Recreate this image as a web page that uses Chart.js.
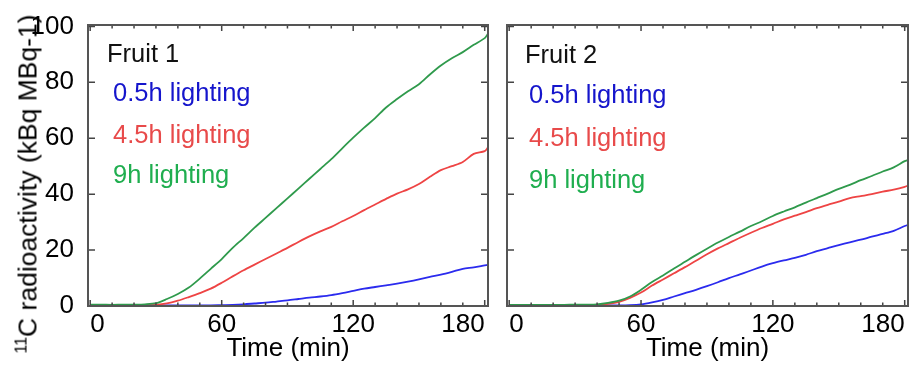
<!DOCTYPE html>
<html>
<head>
<meta charset="utf-8">
<script src="https://cdn.jsdelivr.net/npm/chart.js@4"></script>
<style>
  body { margin: 0; background: #fff; width: 916px; height: 366px; position: relative; overflow: hidden; }
  canvas { position: absolute; top: 0; }
  #c1 { left: 0; }
  #c2 { left: 496px; }
  #ylab {
    position: absolute; left: 28px; top: 184px;
    transform: translate(-50%, -50%) rotate(-90deg);
    white-space: nowrap;
    font: 26.5px "Liberation Sans", Arial, sans-serif; color: #000;
  }
  #ylab sup { font-size: 16px; vertical-align: 10px; line-height: 0; }
</style>
</head>
<body>
<canvas id="c1" width="500" height="366"></canvas>
<canvas id="c2" width="420" height="366"></canvas>
<div id="ylab"><sup>11</sup>C radioactivity (kBq MBq-1)</div>
<script>
// time (min)
const time = [0,5,10,15,20,25,30,35,40,45,50,55,60,65,70,75,80,85,90,95,100,105,110,115,120,125,130,135,140,145,150,155,160,165,170,175,180,181.5];

// Fruit 1
const fruit1_05h = [0.2,0.2,0.2,0.2,0.2,0.2,0.2,0.2,0.2,0.2,0.2,0.2,0.3,0.4,0.6,0.9,1.2,1.6,2.0,2.5,3.0,3.4,3.9,4.6,5.4,6.2,6.8,7.4,8.0,8.7,9.5,10.4,11.2,12.2,13.3,13.8,14.5,14.7];
const fruit1_45h = [0.3,0.3,0.3,0.3,0.3,0.3,0.4,0.9,1.9,3.2,4.6,6.2,8.3,10.6,12.8,14.8,16.8,18.8,20.8,22.9,24.9,26.7,28.3,30.3,32.2,34.3,36.3,38.3,40.2,41.7,43.6,46.2,48.6,50.0,51.5,54.4,55.4,56.7];
const fruit1_9h  = [0.5,0.5,0.4,0.5,0.5,0.6,1.0,2.5,4.3,6.6,9.8,13.3,16.8,20.8,24.3,28.0,31.5,35.0,38.5,42.0,45.5,49.0,52.5,56.4,60.2,63.8,67.2,71.0,74.0,76.8,79.3,82.8,86.0,88.6,90.8,93.4,95.8,97.4];

// Fruit 2
const fruit2_05h = [0.2,0.2,0.2,0.2,0.2,0.2,0.2,0.2,0.2,0.2,0.2,0.3,0.6,1.3,2.2,3.4,4.6,5.8,7.1,8.5,10.0,11.3,12.7,14.1,15.3,16.3,17.2,18.3,19.6,20.7,21.8,22.8,23.7,24.8,25.8,26.9,28.6,29.0];
const fruit2_45h = [0.3,0.3,0.3,0.3,0.3,0.3,0.3,0.3,0.4,0.8,1.5,2.9,4.8,7.3,9.5,11.7,13.9,16.2,18.5,20.6,22.5,24.4,26.2,27.9,29.4,31.0,32.3,33.6,35.0,36.2,37.3,38.6,39.3,40.0,40.9,41.6,42.6,43.1];
const fruit2_9h  = [0.4,0.4,0.4,0.4,0.4,0.4,0.5,0.5,0.6,1.1,1.9,3.4,5.8,8.6,10.9,13.4,15.8,18.2,20.5,22.7,24.7,26.6,28.6,30.3,32.2,33.8,35.3,37.0,38.6,40.2,41.9,43.3,45.0,46.5,48.1,49.6,51.8,52.2];

const seriesLabels = ["0.5h lighting", "4.5h lighting", "9h lighting"];
const lineColors = ["#2b2bee", "#ee4444", "#2f9a4c"];
const textColors = ["#1515cc", "#e84a4a", "#1fae4f"];

const xLabelTicks = [0, 60, 120, 180];
const yLabelTicks = [0, 20, 40, 60, 80, 100];
const xTickMarks = [0,10,20,30,40,50,60,70,80,90,100,110,120,130,140,150,160,170,180];

const FONT = '"Liberation Sans", Arial, sans-serif';

// frame + inward ticks on all four sides, and the in-plot labels
const framePlugin = {
  id: "framePlugin",
  afterDatasetsDraw(chart, args, opts) {
    const {ctx, chartArea: a, scales: {x, y}} = chart;
    ctx.save();
    ctx.strokeStyle = "#444";
    ctx.lineWidth = 1.5;
    ctx.beginPath();
    xTickMarks.forEach(v => {
      const px = x.getPixelForValue(v);
      const len = v % 60 === 0 ? 6 : 3.5;
      ctx.moveTo(px, a.bottom); ctx.lineTo(px, a.bottom - len);
      ctx.moveTo(px, a.top); ctx.lineTo(px, a.top + len);
    });
    yLabelTicks.forEach(v => {
      const py = y.getPixelForValue(v);
      ctx.moveTo(a.left, py); ctx.lineTo(a.left + 7, py);
      ctx.moveTo(a.right, py); ctx.lineTo(a.right - 7, py);
    });
    ctx.stroke();
    ctx.strokeStyle = "#555";
    ctx.lineWidth = 2;
    ctx.strokeRect(a.left, a.top, a.right - a.left, a.bottom - a.top);

    // labels
    ctx.font = "25.5px " + FONT;
    ctx.textBaseline = "alphabetic";
    ctx.textAlign = "left";
    ctx.fillStyle = "#111";
    ctx.fillText(opts.title, opts.titleX, opts.rows[0]);
    seriesLabels.forEach((s, i) => {
      ctx.fillStyle = textColors[i];
      ctx.fillText(s, opts.textX, opts.rows[i + 1]);
    });
    ctx.restore();
  }
};

function makeChart(id, series, cfg) {
  const ctx = document.getElementById(id).getContext("2d");
  return new Chart(ctx, {
    type: "line",
    data: {
      datasets: series.map((vals, i) => ({
        label: seriesLabels[i],
        data: time.map((t, k) => ({x: t, y: vals[k]})),
        borderColor: lineColors[i],
        borderWidth: 1.8,
        pointRadius: 0,
        tension: 0.3,
        fill: false
      })).reverse()
    },
    options: {
      responsive: false,
      animation: false,
      layout: { padding: { left: 0, top: 25, right: cfg.padRight, bottom: 0 } },
      plugins: {
        legend: { display: false },
        tooltip: { enabled: false },
        framePlugin: cfg.labels
      },
      scales: {
        x: {
          type: "linear",
          min: -1, max: 181.5,
          grid: { display: false },
          border: { display: false },
          afterBuildTicks(s) { s.ticks = xLabelTicks.map(v => ({value: v})); },
          ticks: {
            align: "inner", padding: -5,
            color: "#000", font: { family: FONT, size: 26 }
          },
          title: {
            display: true, text: "Time (min)", color: "#000",
            font: { family: FONT, size: 26 }, padding: { top: 0, bottom: 2 }
          },
          afterFit(s) { s.height = 60; }
        },
        y: {
          min: 0, max: 100.5,
          grid: { display: false },
          border: { display: false },
          afterBuildTicks(s) { s.ticks = yLabelTicks.map(v => ({value: v})); },
          ticks: {
            display: cfg.showY, padding: 6,
            color: "#000", font: { family: FONT, size: 26 }
          },
          afterFit(s) { s.width = cfg.yWidth; }
        }
      }
    },
    plugins: [framePlugin]
  });
}

makeChart("c1", [fruit1_05h, fruit1_45h, fruit1_9h], {
  padRight: 12, yWidth: 88, showY: true,
  labels: { title: "Fruit 1", titleX: 107, textX: 113, rows: [62, 101, 143, 183] }
});
makeChart("c2", [fruit2_05h, fruit2_45h, fruit2_9h], {
  padRight: 8, yWidth: 11, showY: false,
  labels: { title: "Fruit 2", titleX: 29, textX: 33, rows: [63, 103, 146, 188] }
});
</script>
</body>
</html>
